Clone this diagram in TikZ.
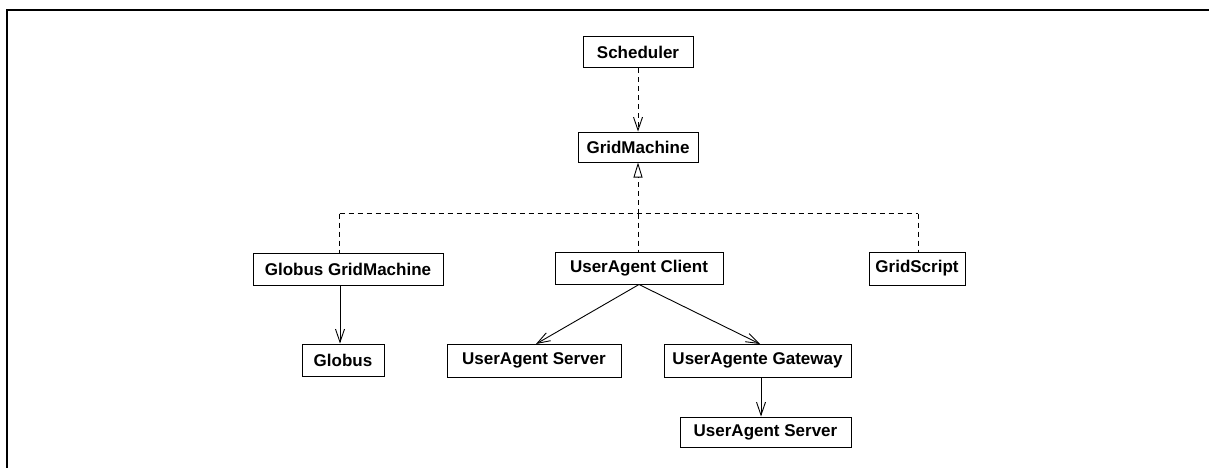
\documentclass[tikz,border=0pt]{standalone}
\usepackage{fontspec}
\setmainfont{Liberation Sans}
\usetikzlibrary{arrows.meta}
\begin{document}
\begin{tikzpicture}[x=1pt,y=-1pt,
  cls/.style={draw=black,line width=1pt,fill=white,inner sep=0pt,font=\fontsize{17}{19}\selectfont\bfseries},
  dep/.style={line width=0.9pt,dash pattern=on 5pt off 4pt,-{Straight Barb[length=13pt,width=9pt,line width=0.9pt]}},
  assoc/.style={line width=0.9pt,-{Straight Barb[length=13pt,width=9pt,line width=0.9pt]}},
  realize/.style={line width=0.9pt,dash pattern=on 5pt off 4pt},
  gen/.style={line width=0.9pt,-{Triangle[open,length=15pt,width=9pt,line width=0.9pt]}},
  frame/.style={line width=2pt}]
\useasboundingbox (0,0) rectangle (1209,468);
\draw[frame] (6.5,470) -- (6.5,10.5) -- (1212,10.5);
% classes
\node[cls,minimum width=110pt,minimum height=31pt] (sched) at (638,52.5) {Scheduler};
\node[cls,minimum width=120pt,minimum height=30pt] (gm) at (638,147) {GridMachine};
\node[cls,minimum width=190pt,minimum height=32pt] (ggm) at (348,269) {Globus GridMachine};
\node[cls,minimum width=168pt,minimum height=32pt] (uac) at (639,268) {UserAgent Client};
\node[cls,minimum width=96pt,minimum height=33pt] (gs) at (917,268.5) {GridScript};
\node[cls,minimum width=82pt,minimum height=32pt] (globus) at (343,360) {Globus};
\node[cls,minimum width=174pt,minimum height=33pt] (uas1) at (534,360.5) {UserAgent Server};
\node[cls,minimum width=187pt,minimum height=33pt] (uag) at (757.5,360.5) {UserAgente Gateway};
\node[cls,minimum width=171pt,minimum height=30pt] (uas2) at (765.5,432) {UserAgent Server};
% coordinates
\coordinate (bus) at (638,213.5);
\coordinate (busL) at (339.5,213.5);
\coordinate (busR) at (918,213.5);
\coordinate (tri) at (638,178);
% connectors
\draw[dep] (sched.south) -- (gm.north);
\draw[realize] (busL) -- (busR);
\draw[realize] (busL) -- (busL |- ggm.north);
\draw[realize] (busR) -- (busR |- gs.north);
\draw[realize] (bus) -- (uac.north -| bus);
\draw[realize] (bus) -- (tri);
\draw[gen] (tri) -- (gm.south);
\draw[assoc] (ggm.south -| 340,0) -- (globus.north -| 340,0);
\draw[assoc] (uac.south) -- (536,344);
\draw[assoc] (uac.south) -- (760,344);
\draw[assoc] (uag.south -| 761,0) -- (uas2.north -| 761,0);
\end{tikzpicture}
\end{document}
